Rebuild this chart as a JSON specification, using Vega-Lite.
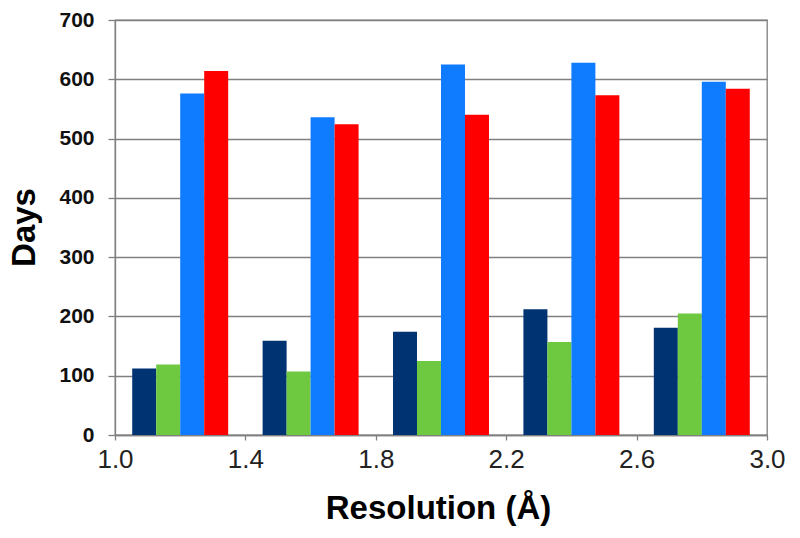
{
  "$schema": "https://vega.github.io/schema/vega-lite/v6.json",
  "width": 652,
  "height": 415,
  "autosize": "none",
  "padding": {"left": 115, "top": 20, "right": 33, "bottom": 103},
  "background": "white",
  "config": {
    "view": {"stroke": "#808080", "strokeWidth": 1.3},
    "font": "Liberation Sans"
  },
  "layer": [
    {
      "data": {
        "values": [
          {"bin": "1.0-1.4", "series": "S1", "days": 112},
          {"bin": "1.0-1.4", "series": "S2", "days": 119},
          {"bin": "1.0-1.4", "series": "S3", "days": 576},
          {"bin": "1.0-1.4", "series": "S4", "days": 614},
          {"bin": "1.4-1.8", "series": "S1", "days": 159},
          {"bin": "1.4-1.8", "series": "S2", "days": 107},
          {"bin": "1.4-1.8", "series": "S3", "days": 536},
          {"bin": "1.4-1.8", "series": "S4", "days": 524},
          {"bin": "1.8-2.2", "series": "S1", "days": 174},
          {"bin": "1.8-2.2", "series": "S2", "days": 125},
          {"bin": "1.8-2.2", "series": "S3", "days": 625},
          {"bin": "1.8-2.2", "series": "S4", "days": 540},
          {"bin": "2.2-2.6", "series": "S1", "days": 212},
          {"bin": "2.2-2.6", "series": "S2", "days": 157},
          {"bin": "2.2-2.6", "series": "S3", "days": 628},
          {"bin": "2.2-2.6", "series": "S4", "days": 573},
          {"bin": "2.6-3.0", "series": "S1", "days": 181},
          {"bin": "2.6-3.0", "series": "S2", "days": 205},
          {"bin": "2.6-3.0", "series": "S3", "days": 596},
          {"bin": "2.6-3.0", "series": "S4", "days": 584}
        ]
      },
      "mark": {"type": "bar"},
      "encoding": {
        "x": {
          "field": "bin",
          "type": "nominal",
          "scale": {"paddingInner": 0.264, "paddingOuter": 0.132},
          "axis": null
        },
        "xOffset": {
          "field": "series",
          "type": "nominal",
          "scale": {"paddingInner": 0, "paddingOuter": 0, "domain": ["S1", "S2", "S3", "S4"]}
        },
        "y": {
          "field": "days",
          "type": "quantitative",
          "scale": {"domain": [0, 700], "nice": false},
          "axis": {
            "title": "Days",
            "values": [0, 100, 200, 300, 400, 500, 600, 700],
            "grid": true,
            "gridColor": "#808080",
            "gridWidth": 1.3,
            "gridOpacity": 1,
            "domainColor": "#808080",
            "domainWidth": 1.3,
            "tickColor": "#808080",
            "tickWidth": 1.3,
            "tickSize": 7,
            "labelFont": "Liberation Sans",
            "labelFontSize": 21,
            "labelFontWeight": "bold",
            "labelColor": "#111111",
            "labelPadding": 14,
            "titleFont": "Liberation Sans",
            "titleFontSize": 33,
            "titleFontWeight": "bold",
            "titleColor": "#000000",
            "titleAngle": 270,
            "titleAlign": "center",
            "titleBaseline": "middle",
            "titleX": -91,
            "titleY": 207
          }
        },
        "color": {
          "field": "series",
          "type": "nominal",
          "scale": {"domain": ["S1", "S2", "S3", "S4"], "range": ["#003372", "#6EC840", "#0F7BFF", "#FF0000"]},
          "legend": null
        }
      }
    },
    {
      "data": {"values": [{"r": 1.0}, {"r": 3.0}]},
      "mark": {"type": "point", "opacity": 0},
      "encoding": {
        "x": {
          "field": "r",
          "type": "quantitative",
          "scale": {"domain": [1.0, 3.0], "nice": false, "zero": false},
          "axis": {
            "orient": "bottom",
            "title": "Resolution (Å)",
            "values": [1.0, 1.4, 1.8, 2.2, 2.6, 3.0],
            "format": ".1f",
            "grid": false,
            "domainColor": "#808080",
            "domainWidth": 1.3,
            "tickColor": "#808080",
            "tickWidth": 1.3,
            "tickSize": 5,
            "labelFont": "Liberation Sans",
            "labelFontSize": 26,
            "labelColor": "#222222",
            "labelPadding": 6,
            "labelFlush": false,
            "labelOverlap": false,
            "titleFont": "Liberation Sans",
            "titleFontSize": 33,
            "titleFontWeight": "bold",
            "titleColor": "#000000",
            "titleBaseline": "middle",
            "titleX": 323,
            "titleY": 73
          }
        }
      }
    }
  ],
  "resolve": {"scale": {"x": "independent"}}
}
